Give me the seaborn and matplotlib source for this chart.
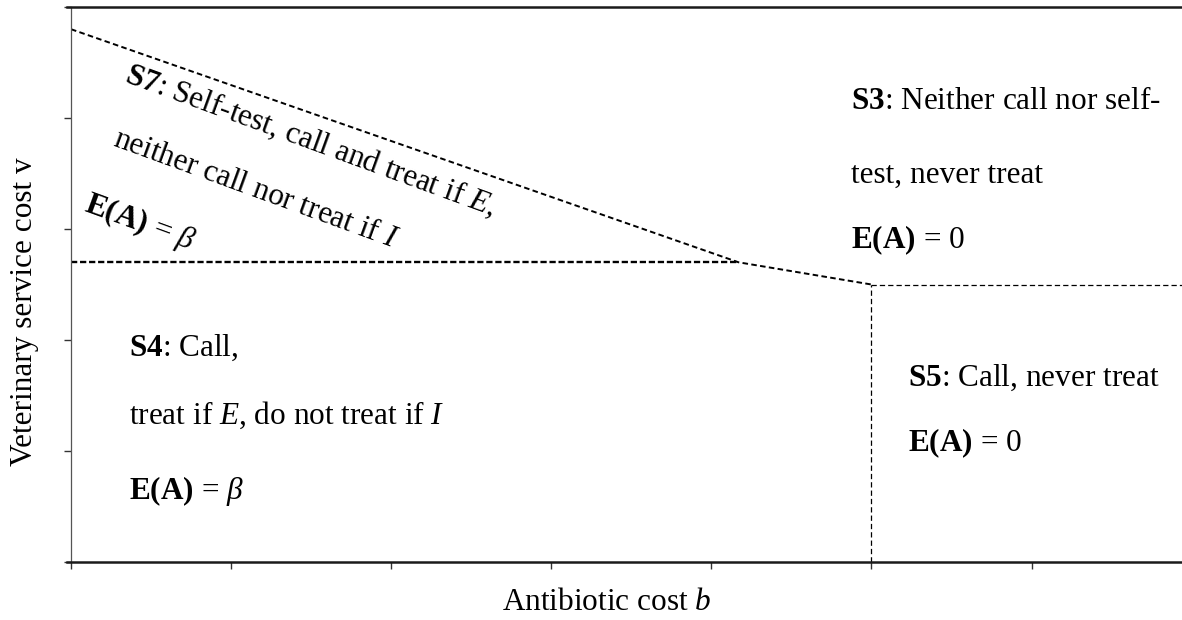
import matplotlib
matplotlib.use('Agg')
import matplotlib.pyplot as plt
import seaborn as sns
import pandas as pd

# ======================================
# Boundaries of the strategy regions (b = antibiotic cost, v = vet cost)
# ======================================

upper_b = [0.0, 4.17, 5.0]
upper_v = [4.80, 2.70, 2.50]

lower_b = [0.0, 4.17]
lower_v = [2.70, 2.70]

right_b = [5.0, 6.94]
right_v = [2.50, 2.50]

vert_b = [5.0, 5.0]
vert_v = [0.0, 2.50]

x_ticks = [0, 1, 2, 3, 4, 5, 6]
y_ticks = [0, 1, 2, 3, 4, 5]

s7_lines = [r"$\mathbf{S7}$: Self-test, call and treat if $E$,",
            r"neither call nor treat if $I$",
            r"$\mathbf{E(A)}$ = $\beta$"]
s3_lines = [r"$\mathbf{S3}$: Neither call nor self-",
            "test, never treat",
            r"$\mathbf{E(A)}$ = 0"]
s4_lines = [r"$\mathbf{S4}$: Call,",
            r"treat if $E$, do not treat if $I$",
            r"$\mathbf{E(A)}$ = $\beta$"]
s5_lines = [r"$\mathbf{S5}$: Call, never treat",
            r"$\mathbf{E(A)}$ = 0"]

# ======================================
# Style
# ======================================

sns.set_theme(style='white')
plt.rcParams['font.family'] = ['Liberation Serif', 'DejaVu Serif']
plt.rcParams['text.color'] = 'black'
plt.rcParams['mathtext.fontset'] = 'custom'
plt.rcParams['mathtext.rm'] = 'Liberation Serif'
plt.rcParams['mathtext.it'] = 'Liberation Serif:italic'
plt.rcParams['mathtext.bf'] = 'Liberation Serif:bold'
plt.rcParams['lines.scale_dashes'] = False

fig = plt.figure(figsize=(11.82, 6.2), dpi=100)
ax = fig.add_axes([71 / 1182, 58 / 620, 1 - 71 / 1182, (562 - 7) / 620])

df_upper = pd.DataFrame({'b': upper_b, 'v': upper_v})
df_lower = pd.DataFrame({'b': lower_b, 'v': lower_v})
df_right = pd.DataFrame({'b': right_b, 'v': right_v})
df_vert = pd.DataFrame({'b': vert_b, 'v': vert_v})

sns.lineplot(data=df_upper, x='b', y='v', sort=False, estimator=None,
             color='black', lw=1.4, ax=ax, linestyle=(0, (4.0, 2.4)))
sns.lineplot(data=df_lower, x='b', y='v', sort=False, estimator=None,
             color='black', lw=1.7, ax=ax, linestyle=(0, (4.5, 2.0)))
sns.lineplot(data=df_right, x='b', y='v', sort=False, estimator=None,
             color='black', lw=0.9, ax=ax, linestyle=(0, (3.8, 2.2)))
sns.lineplot(data=df_vert, x='b', y='v', sort=False, estimator=None,
             color='black', lw=0.9, ax=ax, linestyle=(0, (3.8, 2.2)))

ax.set_xlim(0, 6.94)
ax.set_ylim(0, 5)
ax.set_xticks(x_ticks)
ax.set_yticks(y_ticks)
ax.set_xticklabels([])
ax.set_yticklabels([])
ax.tick_params(axis='both', direction='out', length=5, width=1,
               color='#333333', bottom=True, left=True)
ax.set_xlabel('')
ax.set_ylabel('')

for side in ['top', 'bottom']:
    ax.spines[side].set_color('#1a1a1a')
    ax.spines[side].set_linewidth(1.8)
    ax.spines[side].set_bounds(-0.025, 6.94)
ax.spines['left'].set_color('#555555')
ax.spines['left'].set_linewidth(0.9)
ax.spines['right'].set_visible(False)

fs = 22.5

# S7 (rotated along the boundary)
s7_pos = [(1.50, 3.80), (1.15, 3.36), (0.43, 3.06)]
for (px, py), txt in zip(s7_pos, s7_lines):
    ax.text(px, py, txt, fontsize=fs, rotation=-20, ha='center', va='center')

# S3
for py, txt in zip([4.15, 3.48, 2.90], s3_lines):
    ax.text(4.87, py, txt, fontsize=fs, ha='left', va='center')

# S4
for py, txt in zip([1.93, 1.32, 0.64], s4_lines):
    ax.text(0.36, py, txt, fontsize=fs, ha='left', va='center')

# S5
for py, txt in zip([1.66, 1.07], s5_lines):
    ax.text(5.23, py, txt, fontsize=fs, ha='left', va='center')

fig.text(25 / 1182, 1 - 312 / 620, r'Veterinary service cost v',
         fontsize=fs, rotation=90, ha='center', va='center')
fig.text(607 / 1182, 1 - 603 / 620, r'Antibiotic cost $b$',
         fontsize=fs, ha='center', va='center')

plt.savefig('out.png', dpi=100)
